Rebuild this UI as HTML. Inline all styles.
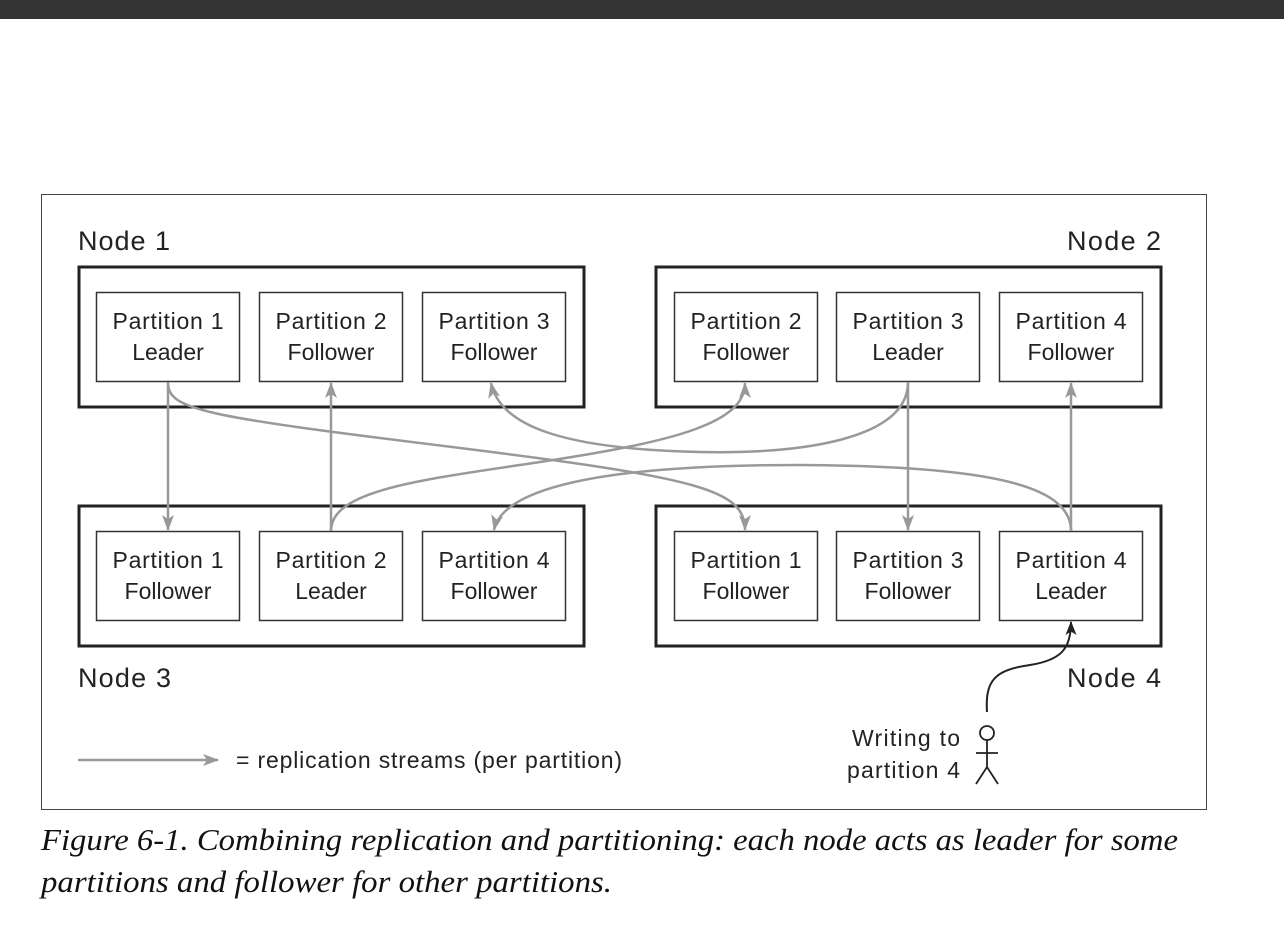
<!DOCTYPE html>
<html><head><meta charset="utf-8"><style>
html,body{margin:0;padding:0;background:#fff;}
svg{display:block;}
.s{font-family:"Liberation Sans",sans-serif;fill:#222;}
</style></head><body>
<svg width="1284" height="936" viewBox="0 0 1284 936" xmlns="http://www.w3.org/2000/svg">
<defs>
<marker id="g" viewBox="0 0 16 12" refX="15" refY="6" markerWidth="16" markerHeight="12" markerUnits="userSpaceOnUse" orient="auto">
<path d="M0,0 L16,6 L0,12 L4,6 Z" fill="#999"/></marker>
<marker id="b" viewBox="0 0 14 11" refX="13" refY="5.5" markerWidth="14" markerHeight="11" markerUnits="userSpaceOnUse" orient="auto">
<path d="M0,0 L14,5.5 L0,11 L3.5,5.5 Z" fill="#222"/></marker>
</defs>
<rect x="0" y="0" width="1284" height="19" fill="#333"/>
<rect x="41.5" y="194.5" width="1165" height="615" fill="none" stroke="#444" stroke-width="1"/>

<g fill="none" stroke="#222" stroke-width="3">
<rect x="79" y="267" width="505" height="140"/>
<rect x="656" y="267" width="505" height="140"/>
<rect x="79" y="506" width="505" height="140"/>
<rect x="656" y="506" width="505" height="140"/>
</g>
<g fill="#fff" stroke="#333" stroke-width="1.5">
<rect x="96.5" y="292.5" width="143" height="89"/>
<rect x="259.5" y="292.5" width="143" height="89"/>
<rect x="422.5" y="292.5" width="143" height="89"/>
<rect x="674.5" y="292.5" width="143" height="89"/>
<rect x="836.5" y="292.5" width="143" height="89"/>
<rect x="999.5" y="292.5" width="143" height="89"/>
<rect x="96.5" y="531.5" width="143" height="89"/>
<rect x="259.5" y="531.5" width="143" height="89"/>
<rect x="422.5" y="531.5" width="143" height="89"/>
<rect x="674.5" y="531.5" width="143" height="89"/>
<rect x="836.5" y="531.5" width="143" height="89"/>
<rect x="999.5" y="531.5" width="143" height="89"/>
</g>
<g class="s" font-size="23" text-anchor="middle">
<text x="168" y="329" textLength="111">Partition 1</text><text x="168" y="360">Leader</text>
<text x="331" y="329" textLength="111">Partition 2</text><text x="331" y="360">Follower</text>
<text x="494" y="329" textLength="111">Partition 3</text><text x="494" y="360">Follower</text>
<text x="746" y="329" textLength="111">Partition 2</text><text x="746" y="360">Follower</text>
<text x="908" y="329" textLength="111">Partition 3</text><text x="908" y="360">Leader</text>
<text x="1071" y="329" textLength="111">Partition 4</text><text x="1071" y="360">Follower</text>
<text x="168" y="568" textLength="111">Partition 1</text><text x="168" y="599">Follower</text>
<text x="331" y="568" textLength="111">Partition 2</text><text x="331" y="599">Leader</text>
<text x="494" y="568" textLength="111">Partition 4</text><text x="494" y="599">Follower</text>
<text x="746" y="568" textLength="111">Partition 1</text><text x="746" y="599">Follower</text>
<text x="908" y="568" textLength="111">Partition 3</text><text x="908" y="599">Follower</text>
<text x="1071" y="568" textLength="111">Partition 4</text><text x="1071" y="599">Leader</text>
</g>
<g class="s" font-size="27">
<text x="78" y="250" textLength="92">Node 1</text>
<text x="1067" y="250" textLength="94">Node 2</text>
<text x="78" y="687" textLength="93">Node 3</text>
<text x="1067" y="687" textLength="94">Node 4</text>
</g>

<g fill="none" stroke="#999" stroke-width="2.5">
<path d="M168,382 L168,530" marker-end="url(#g)"/>
<path d="M331,531 L331,383" marker-end="url(#g)"/>
<path d="M908,382 L908,530" marker-end="url(#g)"/>
<path d="M1071,531 L1071,383" marker-end="url(#g)"/>
<path d="M168,382 C168,410 200,416 460,448 C700,478 745,490 745,530" marker-end="url(#g)"/>
<path d="M908,382 C908,440 800,454 700,452 C560,449 500,425 491,383" marker-end="url(#g)"/>
<path d="M331,531 C331,490 420,480 540,462 C680,441 745,422 745,383" marker-end="url(#g)"/>
<path d="M1071,531 C1071,488 1000,466 800,465 C600,465 503,488 494,530" marker-end="url(#g)"/>
<path d="M78,760 L218,760" marker-end="url(#g)"/>
</g>
<path d="M987,712 C985,680 995,670 1030,665 C1062,660 1071,648 1071,622" fill="none" stroke="#222" stroke-width="2" marker-end="url(#b)"/>
<g fill="none" stroke="#222" stroke-width="1.8">
<circle cx="987" cy="733" r="7"/>
<path d="M987,740 L987,767 M976,753 L998,753 M976,784 L987,767 L998,784"/>
</g>
<g class="s" font-size="23">
<text x="852" y="746" textLength="108">Writing to</text>
<text x="847" y="778" textLength="113">partition 4</text>
<text x="236" y="768" textLength="386">= replication streams (per partition)</text>
</g>
<g font-family="Liberation Serif,serif" font-style="italic" font-size="31" fill="#111">
<text x="41" y="850" textLength="1137" lengthAdjust="spacingAndGlyphs">Figure 6-1. Combining replication and partitioning: each node acts as leader for some</text>
<text x="41" y="892" textLength="571" lengthAdjust="spacingAndGlyphs">partitions and follower for other partitions.</text>
</g>
</svg>
</body></html>
